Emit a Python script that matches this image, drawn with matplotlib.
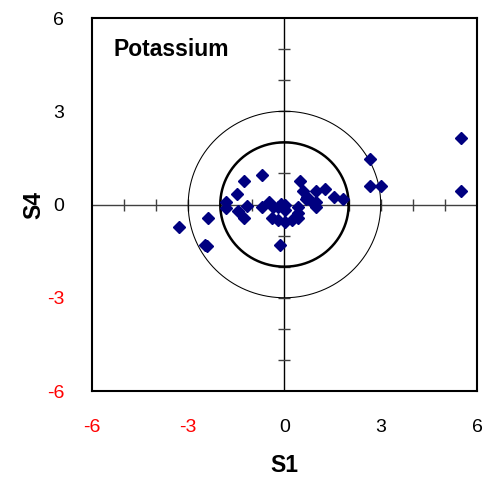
import numpy as np
import matplotlib.pyplot as plt

plt.rcParams['font.family'] = ['Liberation Sans', 'DejaVu Sans']

# scores S1 / S4 (Potassium)
s1 = [2.66, 2.66, 3.01, -0.69, -1.25, 0.48, -1.49, 0.59, 0.98, 1.26,
      1.55, 1.83, 0.67, 0.98, 0.98, -1.82, -1.82, -1.18, -1.44, -1.25,
      -0.69, -0.47, -0.35, -0.19, 0.02, 0.02, 0.43, 0.43, -0.40, -0.19,
      0.02, 0.22, 0.43, 0.69, 0.90, -2.38, -3.29, -2.48, -2.42, -0.14,
      -0.12, 5.49, 5.49]
s4 = [1.46, 0.60, 0.60, 0.95, 0.76, 0.76, 0.33, 0.44, 0.42, 0.50,
      0.25, 0.18, 0.17, 0.09, -0.09, 0.09, -0.12, -0.05, -0.21, -0.44,
      -0.07, 0.07, -0.09, -0.07, -0.02, -0.18, -0.09, -0.26, -0.44, -0.50,
      -0.55, -0.50, -0.44, 0.25, 0.04, -0.44, -0.71, -1.30, -1.32, -1.30,
      0.02, 2.15, 0.43]

radii = [2, 3]
radius_lw = [1.8, 0.75]
label_ticks = [-6, -3, 0, 3, 6]
red_ticks = [-6, -3]
minor = np.arange(-5, 6)

fig = plt.figure(figsize=(4.84, 4.79), dpi=100)
ax = fig.add_axes([0.190, 0.1837, 0.7955, 0.7787])

# centre cross with tick marks
ax.axhline(0, color='#404040', lw=1.0, zorder=1)
ax.axvline(0, color='black', lw=1.0, zorder=1)
ax.plot(minor, np.zeros_like(minor), ls='none', marker='|', ms=8, mew=1.0, color='#404040', zorder=1)
ax.plot(np.zeros_like(minor), minor, ls='none', marker='_', ms=8, mew=1.0, color='#404040', zorder=1)

# circles
t = np.linspace(0, 2 * np.pi, 400)
for r, lw in zip(radii, radius_lw):
    ax.plot(r * np.cos(t), r * np.sin(t), color='black', lw=lw, zorder=2)

ax.plot(s1, s4, ls='none', marker='D', ms=6, color='#000080', zorder=3)

ax.set_xlim(-6, 6)
ax.set_ylim(-6, 6)
ax.set_xticks(label_ticks)
ax.set_yticks(label_ticks)
ax.set_xticklabels([str(v) for v in label_ticks])
ax.set_yticklabels([str(v) for v in label_ticks])
ax.tick_params(length=0, labelsize=14, pad=20)
for lab, v in zip(ax.get_xticklabels(), label_ticks):
    if v in red_ticks:
        lab.set_color('red')
for lab, v in zip(ax.get_yticklabels(), label_ticks):
    if v in red_ticks:
        lab.set_color('red')
for sp in ax.spines.values():
    sp.set_linewidth(1.5)

ax.set_xlabel('S1', fontsize=16.5, fontweight='bold', labelpad=13)
ax.set_ylabel('S4', fontsize=16.5, fontweight='bold', labelpad=1)
ax.text(0.055, 0.915, 'Potassium', transform=ax.transAxes, fontsize=16.5,
        fontweight='bold', va='center', ha='left')

fig.savefig('out.png', dpi=100)
